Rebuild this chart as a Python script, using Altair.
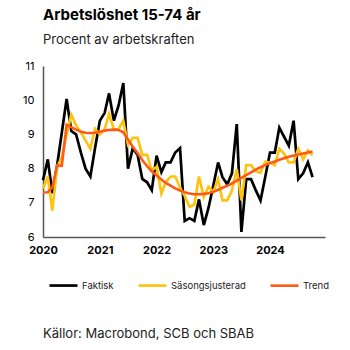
import altair as alt
import pandas as pd

months = pd.date_range("2020-01-01", periods=58, freq="MS")

faktisk = [
    7.66, 8.27, 7.28, 8.10, 9.05, 10.04, 9.10, 9.00, 8.47, 8.00, 7.77, 8.60,
    9.40, 9.63, 10.20, 9.40, 9.84, 10.50, 8.00, 8.60, 8.40, 7.70, 7.60, 7.37,
    8.38, 7.90, 8.18, 8.18, 8.47, 8.60, 6.47, 6.55, 6.47, 7.10, 6.35, 6.85,
    7.50, 8.18, 7.75, 7.54, 7.86, 9.30, 6.15, 7.69, 7.69, 7.37, 7.07, 7.75,
    8.47, 8.47, 9.20, 8.93, 8.67, 9.40, 7.69, 7.86, 8.18, 7.75,
]
sasong = [
    7.41, 7.77, 6.77, 8.05, 8.33, 9.00, 9.58, 9.26, 9.06, 8.82, 8.58, 9.16,
    9.00, 9.15, 9.60, 9.15, 9.15, 9.40, 8.70, 8.90, 8.90, 8.40, 8.40, 7.95,
    8.05, 7.27, 7.60, 7.77, 7.77, 7.45, 7.20, 6.88, 6.95, 7.77, 7.17, 7.47,
    7.32, 7.69, 7.07, 7.07, 7.36, 7.98, 7.07, 8.10, 8.10, 7.92, 7.88, 8.20,
    8.18, 8.10, 8.58, 8.43, 8.18, 8.18, 8.58, 8.27, 8.53, 8.39,
]
trend = [
    7.30, 7.31, 7.45, 8.10, 8.08, 9.28, 9.21, 9.14, 9.08, 9.05, 9.04, 9.05,
    9.08, 9.11, 9.13, 9.14, 9.13, 9.06, 8.85, 8.64, 8.45, 8.25, 8.07, 7.92,
    7.80, 7.68, 7.58, 7.50, 7.42, 7.36, 7.31, 7.27, 7.25, 7.25, 7.26, 7.28,
    7.32, 7.38, 7.44, 7.50, 7.57, 7.65, 7.73, 7.81, 7.89, 7.97, 8.04, 8.10,
    8.16, 8.21, 8.26, 8.30, 8.35, 8.38, 8.41, 8.44, 8.47, 8.50,
]

series_names = ["Faktisk", "Säsongsjusterad", "Trend"]
series_colors = ["#000000", "#FFC20E", "#FF5A14"]
series_widths = [2.7, 2.6, 3.2]

rows = []
for name, vals in zip(series_names, [faktisk, sasong, trend]):
    for m, v in zip(months, vals):
        rows.append({"date": m, "value": v, "series": name})
df = pd.DataFrame(rows)

FONT = "Inter"

lines = alt.Chart(df).mark_line(strokeJoin="miter", strokeCap="butt").encode(
    x=alt.X(
        "date:T",
        scale=alt.Scale(domain=["2020-01-01", "2024-12-20"]),
        axis=alt.Axis(
            title=None, format="%Y", tickCount={"interval": "year", "step": 1},
            ticks=False, grid=False, labelFontWeight="bold", labelFontSize=11,
            labelColor="#000", labelPadding=7, domainColor="#555", domainWidth=1.5,
            labelFlush=False,
        ),
    ),
    y=alt.Y(
        "value:Q",
        scale=alt.Scale(domain=[6, 11], nice=False, zero=False),
        axis=alt.Axis(
            title=None, values=[6, 7, 8, 9, 10, 11], ticks=False, grid=False,
            labelFontSize=11, labelColor="#000", labelPadding=9,
            domainColor="#555", domainWidth=1.5,
        ),
    ),
    color=alt.Color(
        "series:N",
        scale=alt.Scale(domain=series_names, range=series_colors),
        legend=alt.Legend(
            title=None, orient="none", direction="horizontal",
            legendX=5, legendY=204, symbolType="stroke", symbolSize=784,
            symbolStrokeWidth=4.5, labelFontSize=9.5, labelColor="#222",
            columnPadding=19, labelOffset=3,
        ),
    ),
    strokeWidth=alt.StrokeWidth(
        "series:N",
        scale=alt.Scale(domain=series_names, range=series_widths),
        legend=None,
    ),
)

source = alt.Chart(pd.DataFrame({"t": ["Källor: Macrobond, SCB och SBAB"]})).mark_text(
    align="left", baseline="alphabetic", fontSize=13, font=FONT, color="#222"
).encode(text="t:N", x=alt.value(0), y=alt.value(272))

chart = alt.layer(lines, source).properties(
    width=282,
    height=171,
    autosize=alt.AutoSizeParams(type="none"),
    padding={"left": 43, "top": 66, "right": 25, "bottom": 113},
    title=alt.TitleParams(
        text="Arbetslöshet 15-74 år",
        subtitle="Procent av arbetskraften",
        anchor="start", frame="group", fontSize=15, fontWeight="bold",
        subtitleFontSize=13, subtitleColor="#222", color="#000",
        font=FONT, subtitleFont=FONT, offset=13, subtitlePadding=11,
    ),
).configure(font=FONT).configure_view(stroke=None)

chart.save("out.html", embed_options={"renderer": "svg", "actions": False})
